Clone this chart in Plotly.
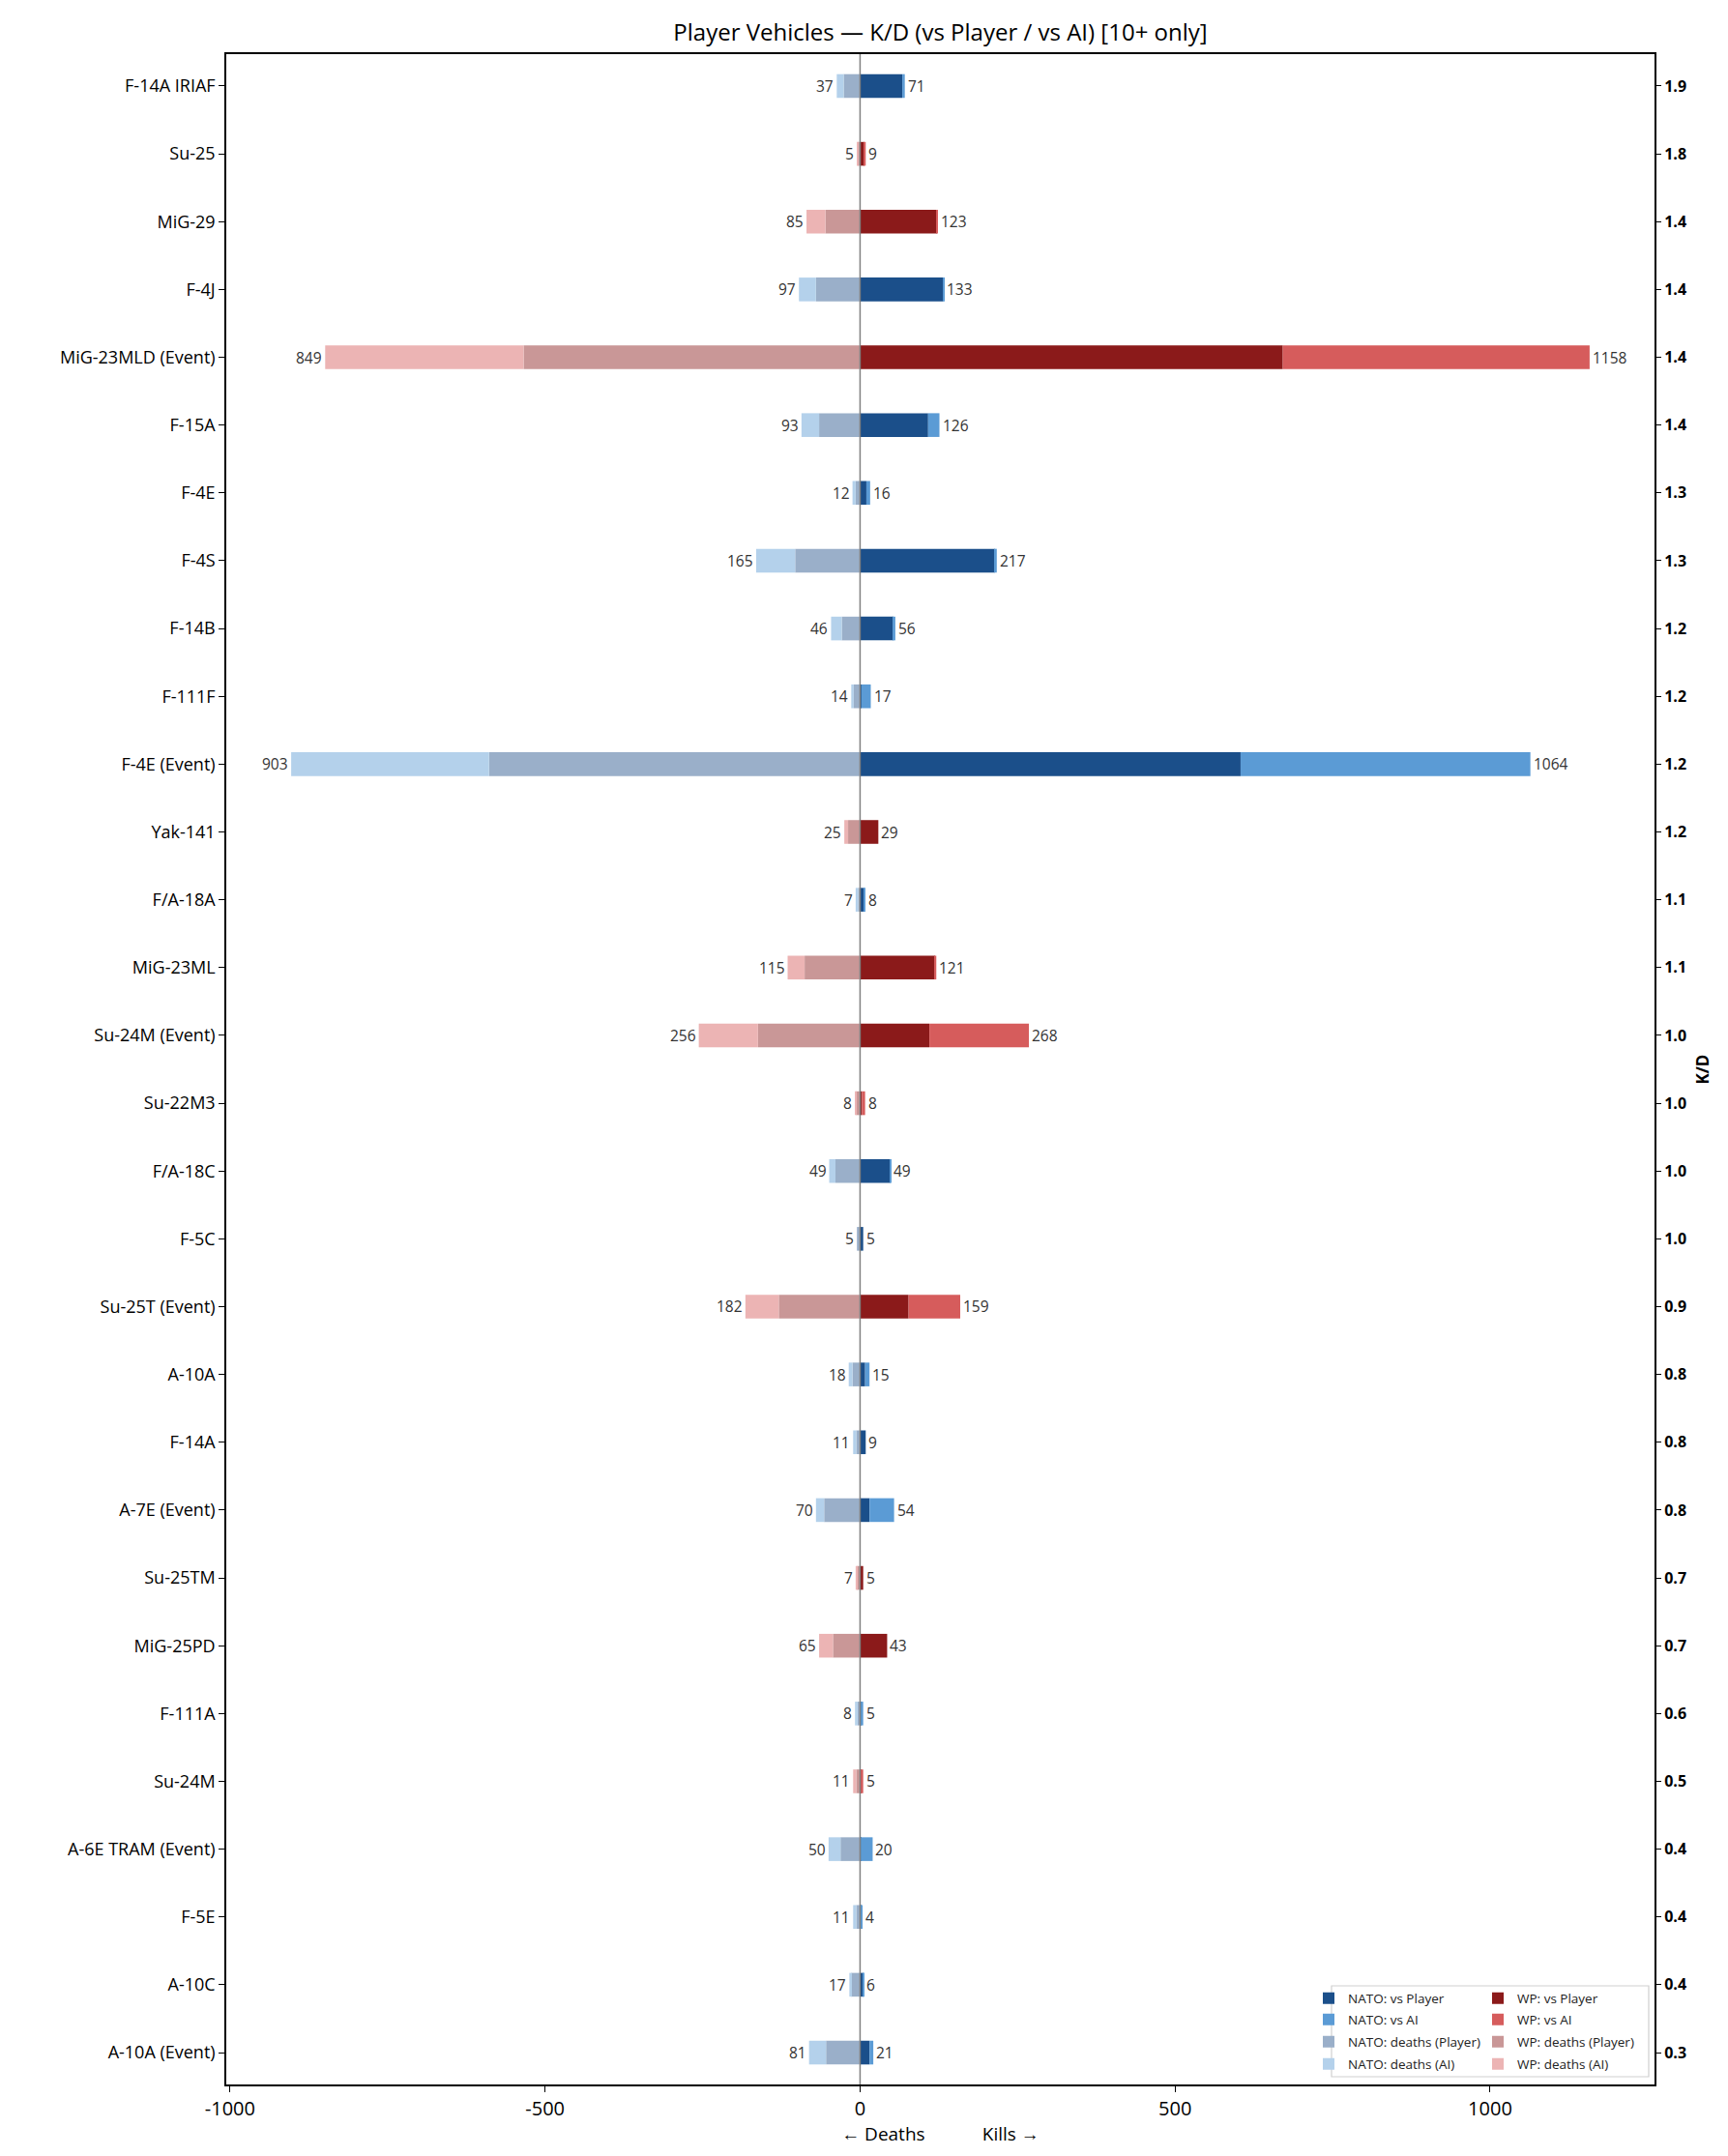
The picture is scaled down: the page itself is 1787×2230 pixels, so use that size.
import plotly.graph_objects as go

vehicles = ["F-14A IRIAF", "Su-25", "MiG-29", "F-4J", "MiG-23MLD (Event)", "F-15A", "F-4E", "F-4S",
            "F-14B", "F-111F", "F-4E (Event)", "Yak-141", "F/A-18A", "MiG-23ML", "Su-24M (Event)",
            "Su-22M3", "F/A-18C", "F-5C", "Su-25T (Event)", "A-10A", "F-14A", "A-7E (Event)",
            "Su-25TM", "MiG-25PD", "F-111A", "Su-24M", "A-6E TRAM (Event)", "F-5E", "A-10C", "A-10A (Event)"]
factions = ["NATO", "WP", "WP", "NATO", "WP", "NATO", "NATO", "NATO",
            "NATO", "NATO", "NATO", "WP", "NATO", "WP", "WP",
            "WP", "NATO", "NATO", "WP", "NATO", "NATO", "NATO",
            "WP", "WP", "NATO", "WP", "NATO", "NATO", "NATO", "NATO"]
kills_vs_player = [67, 7, 122, 132, 671, 108, 10, 214, 53, 2, 604, 29, 6, 119, 110,
                   3, 48, 5, 77, 8, 9, 15, 5, 43, 1, 1, 1, 1, 5, 15]
kills_vs_ai = [4, 2, 1, 1, 487, 18, 6, 3, 3, 15, 460, 0, 2, 2, 158,
               5, 1, 0, 82, 7, 0, 39, 0, 0, 4, 4, 19, 3, 1, 6]
deaths_player = [26, 3, 55, 70, 534, 65, 7, 103, 29, 10, 589, 19, 3, 88, 162,
                 6, 39, 5, 129, 12, 6, 57, 5, 43, 4, 6, 31, 6, 14, 54]
deaths_ai = [11, 2, 30, 27, 315, 28, 5, 62, 17, 4, 314, 6, 4, 27, 94,
             2, 10, 0, 53, 6, 5, 13, 2, 22, 4, 5, 19, 5, 3, 27]
kd_labels = ["1.9", "1.8", "1.4", "1.4", "1.4", "1.4", "1.3", "1.3", "1.2", "1.2", "1.2", "1.2",
             "1.1", "1.1", "1.0", "1.0", "1.0", "1.0", "0.9", "0.8", "0.8", "0.8", "0.7", "0.7",
             "0.6", "0.5", "0.4", "0.4", "0.4", "0.3"]
x_ticks = [-1000, -500, 0, 500, 1000]

colors = {
    ("NATO", "kp"): "#1b4f8a", ("NATO", "ka"): "#5b9bd5",
    ("NATO", "dp"): "#9aafc9", ("NATO", "da"): "#b4d1eb",
    ("WP", "kp"): "#8b1a1a", ("WP", "ka"): "#d65c5c",
    ("WP", "dp"): "#c99797", ("WP", "da"): "#ecb4b4",
}
names = {"kp": "vs Player", "ka": "vs AI", "dp": "deaths (Player)", "da": "deaths (AI)"}
keys = ["kp", "ka", "dp", "da"]

n = len(vehicles)
idx = list(range(n))
FONT = "Open Sans"

# plot area in pixels: x 226..1703, y 48..2148
PW, PH = 1477.0, 2100.0
def px_x(p):
    return (p - 226) / PW
def px_y(p):
    return (2148 - p) / PH

fig = go.Figure()

def series(fac, key):
    xs, bases = [], []
    for i in idx:
        if factions[i] != fac:
            xs.append(None); bases.append(None); continue
        if key == "kp":
            xs.append(kills_vs_player[i]); bases.append(0)
        elif key == "ka":
            xs.append(kills_vs_ai[i]); bases.append(kills_vs_player[i])
        elif key == "dp":
            xs.append(-deaths_player[i]); bases.append(0)
        else:
            xs.append(-deaths_ai[i]); bases.append(-deaths_player[i])
    return xs, bases

legend_layouts = {}
row_y = [2059, 2081, 2104, 2127]
col_x = {"NATO": 1346, "WP": 1521}
k = 0
for fac in ["NATO", "WP"]:
    for r, key in enumerate(keys):
        k += 1
        leg = "legend" if k == 1 else f"legend{k}"
        xs, bases = series(fac, key)
        fig.add_trace(go.Bar(
            x=xs, y=idx, base=bases, orientation="h", width=0.35,
            marker=dict(color=colors[(fac, key)], line=dict(width=0)),
            name=f"{fac}: {names[key]}", hoverinfo="skip", legend=leg,
        ))
        legend_layouts[leg] = dict(
            x=px_x(col_x[fac]), y=px_y(row_y[r]), xanchor="left", yanchor="middle",
            orientation="v", bgcolor="rgba(0,0,0,0)", borderwidth=0,
            font=dict(size=13.5, color="#222222", family=FONT), itemwidth=30,
        )

# invisible trace for the right K/D axis
fig.add_trace(go.Scatter(x=[0] * n, y=idx, yaxis="y2", mode="markers",
                         marker=dict(opacity=0), showlegend=False, hoverinfo="skip"))

annotations = []
for i in idx:
    kt = kills_vs_player[i] + kills_vs_ai[i]
    dt = deaths_player[i] + deaths_ai[i]
    annotations.append(dict(x=kt, y=i, xref="x", yref="y", text=str(kt), showarrow=False,
                            xanchor="left", xshift=1, font=dict(size=15.5, color="#333333", family=FONT)))
    annotations.append(dict(x=-dt, y=i, xref="x", yref="y", text=str(dt), showarrow=False,
                            xanchor="right", xshift=-1, font=dict(size=15.5, color="#333333", family=FONT)))

yrange = [n - 1 + 0.47, -0.47]

fig.update_layout(
    width=1787, height=2230,
    margin=dict(l=226, r=84, t=48, b=82),
    paper_bgcolor="white", plot_bgcolor="white",
    barmode="overlay",
    font=dict(family=FONT, color="black"),
    title=dict(text="Player Vehicles — K/D (vs Player / vs AI) [10+ only]", x=0.5, xref="paper",
               xanchor="center", y=1 - 26 / 2230, yanchor="middle", font=dict(size=24, color="black")),
    xaxis=dict(range=[-1006, 1261], tickvals=x_ticks, ticktext=[str(v) for v in x_ticks],
               showgrid=False, zeroline=False, showline=True, linecolor="black", linewidth=1.5,
               mirror=True, ticks="outside", ticklen=6, tickwidth=1.2, tickcolor="black",
               tickfont=dict(size=20),
               title=dict(text="← Deaths            Kills →", font=dict(size=19), standoff=6)),
    yaxis=dict(range=yrange, tickvals=idx, ticktext=vehicles, showgrid=False, zeroline=False,
               showline=True, linecolor="black", linewidth=1.5, mirror=True,
               ticks="outside", ticklen=6, tickwidth=1.2, tickcolor="black", tickfont=dict(size=18)),
    yaxis2=dict(range=yrange, tickvals=idx, ticktext=kd_labels, overlaying="y", side="right",
                showgrid=False, zeroline=False, ticks="outside", ticklen=6, tickwidth=1.2,
                tickcolor="black", tickfont=dict(size=16, weight="bold"),
                title=dict(text="K/D", font=dict(size=17, weight="bold"), standoff=12)),
    annotations=annotations,
    shapes=[
        dict(type="line", xref="x", yref="paper", x0=0, x1=0, y0=0, y1=1,
             line=dict(color="#808080", width=1.5), layer="above"),
        dict(type="rect", xref="paper", yref="paper", x0=px_x(1369), x1=px_x(1697),
             y0=px_y(2140), y1=px_y(2046), line=dict(color="#d0d0d0", width=1.2),
             fillcolor="rgba(255,255,255,0.85)", layer="above"),
    ],
    showlegend=True,
    **legend_layouts,
)

fig.write_html("out.html")
